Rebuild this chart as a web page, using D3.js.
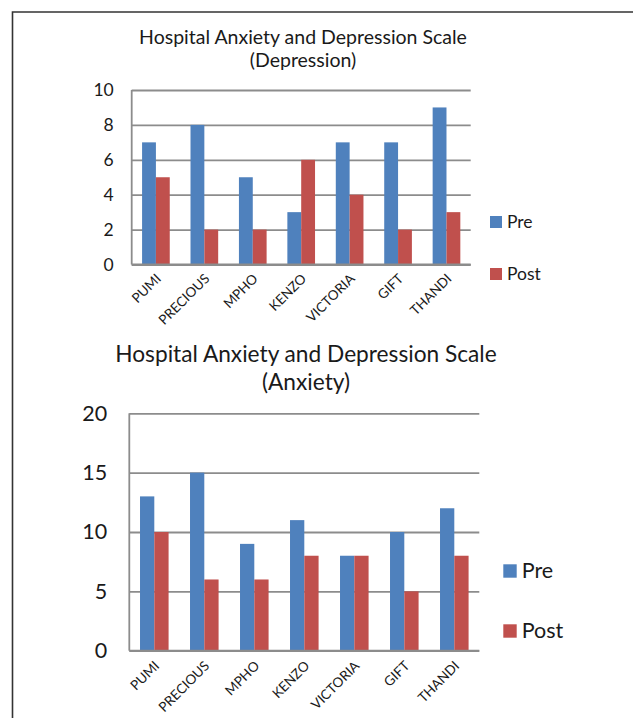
<!DOCTYPE html>
<html>

<head>
    <meta charset="utf-8">
    <style>
        body { margin: 0; background: #fff; }
        svg text { font-family: Lato, "Open Sans", sans-serif; fill: #1a1a1a; }
    </style>
</head>

<body>
    <div id="vizDiv"></div>

    <script src="https://d3js.org/d3.v7.min.js"></script>
    <script>
        // data
        const names = ["PUMI", "PRECIOUS", "MPHO", "KENZO", "VICTORIA", "GIFT", "THANDI"];
        const seriesNames = ["Pre", "Post"];
        const seriesColors = ["#4F81BD", "#C0504D"];

        const depressionPre = [7, 8, 5, 3, 7, 7, 9];
        const depressionPost = [5, 2, 2, 6, 4, 2, 3];
        const depressionTicks = [0, 2, 4, 6, 8, 10];

        const anxietyPre = [13, 15, 9, 11, 8, 10, 12];
        const anxietyPost = [10, 6, 6, 8, 8, 5, 8];
        const anxietyTicks = [0, 5, 10, 15, 20];

        const svg = d3.select("#vizDiv")
            .append("svg")
            .attr("width", 633)
            .attr("height", 718);

        // frame: top and left edge only
        svg.append("path")
            .attr("d", "M12.5,718 L12.5,12 L633,12")
            .attr("fill", "none")
            .attr("stroke", "#333")
            .attr("stroke-width", 1.6);

        function drawChart(opt) {
            const g = svg.append("g");
            const rows = names.map((n, i) => ({ name: n, values: [opt.pre[i], opt.post[i]] }));

            const x = d3.scaleBand().domain(names).range([opt.left, opt.right]);
            const xs = d3.scaleBand().domain(seriesNames).range([0, x.bandwidth()]).paddingOuter(0.75);
            const y = d3.scaleLinear().domain([0, d3.max(opt.ticks)]).range([opt.bottom, opt.top]);

            // gridlines + y labels
            const yAxis = d3.axisLeft(y).tickValues(opt.ticks).tickSize(-(opt.right - opt.left)).tickPadding(opt.tickPad);
            const ya = g.append("g").attr("transform", `translate(${opt.left},0)`).call(yAxis);
            ya.select(".domain").remove();
            ya.selectAll("line").attr("stroke", "#8c8c8c").attr("stroke-width", 1.8);
            ya.selectAll("text").style("font-size", opt.yFont + "px").attr("fill", "#1a1a1a");

            // left axis line
            g.append("line")
                .attr("x1", opt.left).attr("x2", opt.left)
                .attr("y1", opt.top).attr("y2", opt.bottom)
                .attr("stroke", "#8c8c8c").attr("stroke-width", 1.8);

            // bars
            g.selectAll(".grp")
                .data(rows)
                .enter()
                .append("g")
                .attr("transform", d => `translate(${x(d.name)},0)`)
                .selectAll("rect")
                .data(d => d.values.map((v, i) => ({ key: seriesNames[i], value: v, i: i })))
                .enter()
                .append("rect")
                .attr("x", d => xs(d.key))
                .attr("width", xs.bandwidth())
                .attr("y", d => y(d.value))
                .attr("height", d => y(0) - y(d.value))
                .attr("fill", d => seriesColors[d.i]);

            // bottom axis line over bars
            g.append("line")
                .attr("x1", opt.left).attr("x2", opt.right)
                .attr("y1", opt.bottom).attr("y2", opt.bottom)
                .attr("stroke", "#8c8c8c").attr("stroke-width", 1.8);

            // rotated category labels
            g.selectAll(".xl")
                .data(names)
                .enter()
                .append("text")
                .attr("text-anchor", "end")
                .style("font-size", opt.xFont + "px")
                .attr("transform", d => `translate(${x(d) + x.bandwidth() / 2 + 6},${opt.bottom + opt.xDrop}) rotate(-45)`)
                .text(d => d);

            // title
            g.selectAll(".title")
                .data(opt.title)
                .enter()
                .append("text")
                .attr("x", opt.titleX)
                .attr("y", (d, i) => opt.titleY + i * opt.titleGap)
                .attr("text-anchor", "middle")
                .style("font-size", opt.titleFont + "px")
                .text(d => d);

            // legend
            const lg = g.selectAll(".lg")
                .data(seriesNames)
                .enter()
                .append("g")
                .attr("transform", (d, i) => `translate(${opt.legX},${opt.legY + i * opt.legGap})`);
            lg.append("rect")
                .attr("width", opt.legBox).attr("height", opt.legBox)
                .attr("fill", (d, i) => seriesColors[i]);
            lg.append("text")
                .attr("x", opt.legBox + 5)
                .attr("y", opt.legBox)
                .style("font-size", opt.legFont + "px")
                .text(d => d);
        }

        drawChart({
            pre: depressionPre, post: depressionPost, ticks: depressionTicks,
            left: 131.7, right: 470.7, top: 90, bottom: 264.5,
            yFont: 17.5, tickPad: 18, xFont: 13.5, xDrop: 15,
            title: ["Hospital Anxiety and Depression Scale", "(Depression)"],
            titleX: 303, titleY: 44, titleGap: 23, titleFont: 19.5,
            legX: 490, legY: 216, legGap: 52, legBox: 12, legFont: 17.5
        });

        drawChart({
            pre: anxietyPre, post: anxietyPost, ticks: anxietyTicks,
            left: 129.3, right: 479.3, top: 413.3, bottom: 650.7,
            yFont: 21.5, tickPad: 22, xFont: 13.5, xDrop: 16,
            title: ["Hospital Anxiety and Depression Scale", "(Anxiety)"],
            titleX: 306, titleY: 362, titleGap: 28, titleFont: 22.7,
            legX: 503.3, legY: 564.3, legGap: 60, legBox: 13.4, legFont: 21.5
        });
    </script>
</body>

</html>
